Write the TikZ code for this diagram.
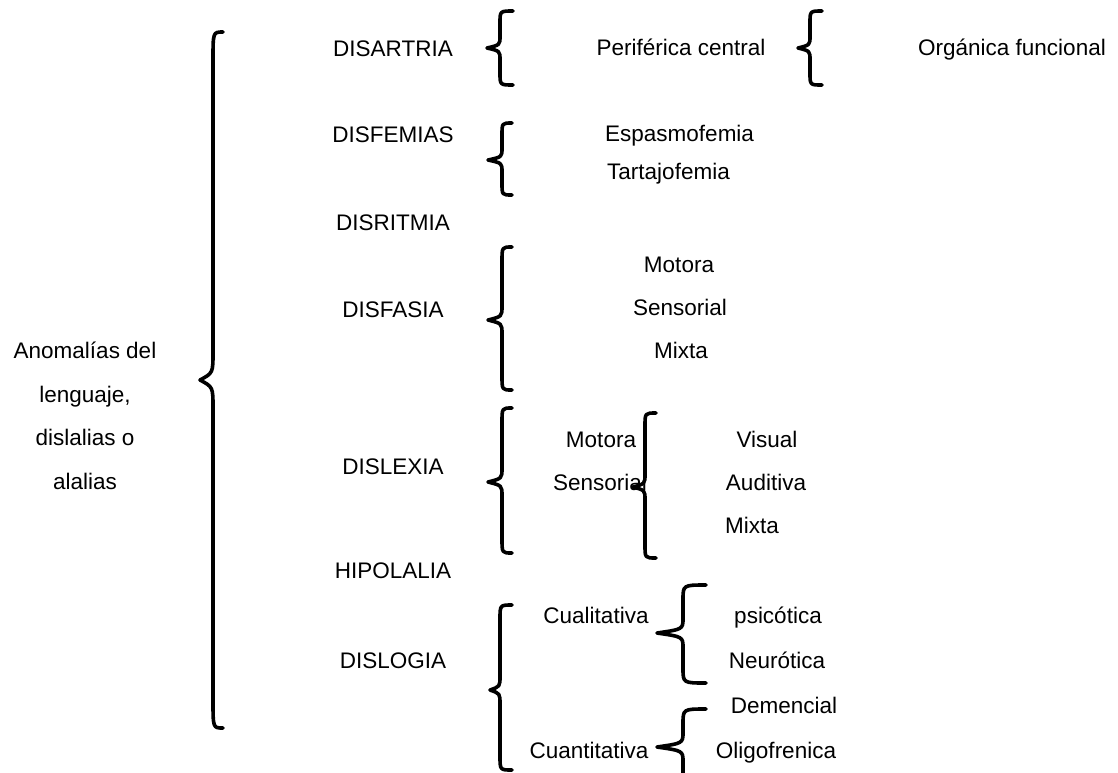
\documentclass[tikz,border=0pt]{standalone}
\usepackage{fontspec}
\setmainfont{Liberation Sans}
\tikzset{
  lbl/.style={inner sep=0pt, font=\fontsize{22.5}{27}\selectfont, anchor=base},
  brc/.style={line width=3.6pt, line cap=round, line join=round}
}
% #1 tip x, #2 stem x, #3 end x, #4 top y, #5 tip y, #6 bottom y, #7 curl size
\newcommand\wbrace[7]{%
  \draw[brc] (#3,#4) .. controls (#2,#4) .. (#2,{#4+#7})
    -- (#2,{#5-#7}) .. controls (#2,{#5-0.25*#7}) .. (#1,#5)
    .. controls (#2,{#5+0.25*#7}) .. (#2,{#5+#7})
    -- (#2,{#6-#7}) .. controls (#2,#6) .. (#3,#6);}
\begin{document}
\begin{tikzpicture}[x=1pt,y=-1pt]
\useasboundingbox (0,0) rectangle (1118,772);
\clip (0,0) rectangle (1118,772);
% root
\node[lbl] (root1) at (85,358) {Anomalías del};
\node[lbl] (root2) at (85,402) {lenguaje,};
\node[lbl] (root3) at (85,445) {dislalias o};
\node[lbl] (root4) at (85,489) {alalias};
% level 1
\node[lbl] (disartria) at (393,56) {DISARTRIA};
\node[lbl] (disfemias) at (393,142) {DISFEMIAS};
\node[lbl] (disritmia) at (393,230) {DISRITMIA};
\node[lbl] (disfasia) at (393,317) {DISFASIA};
\node[lbl] (dislexia) at (393,474) {DISLEXIA};
\node[lbl] (hipolalia) at (393,578) {HIPOLALIA};
\node[lbl] (dislogia) at (393,668) {DISLOGIA};
% disartria
\node[lbl] (periferica) at (681,55) {Periférica central};
\node[lbl] (organica) at (1012,55) {Orgánica funcional};
% disfemias
\node[lbl, anchor=base west] (espasmo) at (605,141) {Espasmofemia};
\node[lbl, anchor=base west] (tartajo) at (607,179) {Tartajofemia};
% disfasia
\node[lbl] (motora1) at (679,272) {Motora};
\node[lbl] (sensorial1) at (680,315) {Sensorial};
\node[lbl] (mixta1) at (681,358) {Mixta};
% dislexia
\node[lbl] (motora2) at (601,447) {Motora};
\node[lbl] (sensorial2) at (600,490) {Sensorial};
\node[lbl] (visual) at (767,447) {Visual};
\node[lbl] (auditiva) at (766,490) {Auditiva};
\node[lbl, anchor=base west] (mixta2) at (725,533) {Mixta};
% dislogia
\node[lbl] (cualitativa) at (596,623) {Cualitativa};
\node[lbl] (cuantitativa) at (589,758) {Cuantitativa};
\node[lbl] (psicotica) at (778,623) {psicótica};
\node[lbl] (neurotica) at (777,668) {Neurótica};
\node[lbl] (demencial) at (784,713) {Demencial};
\node[lbl] (oligo) at (776,758) {Oligofrenica};
% braces
\wbrace{200}{213}{223}{32}{380}{728}{28}
\wbrace{487}{500}{513}{11}{48}{85}{12}
\wbrace{798}{810}{822}{11}{48}{85}{12}
\wbrace{488}{502}{512}{123}{160}{195}{12}
\wbrace{488}{502}{512}{247}{320}{390}{14}
\wbrace{488}{502}{512}{408}{482}{553}{14}
\wbrace{633}{645}{656}{413}{487}{558}{13}
\wbrace{490}{500}{512}{605}{690}{770}{14}
\wbrace{657}{683}{706}{585}{633}{683}{15}
\wbrace{657}{683}{706}{709}{747}{785}{15}
\end{tikzpicture}
\end{document}
